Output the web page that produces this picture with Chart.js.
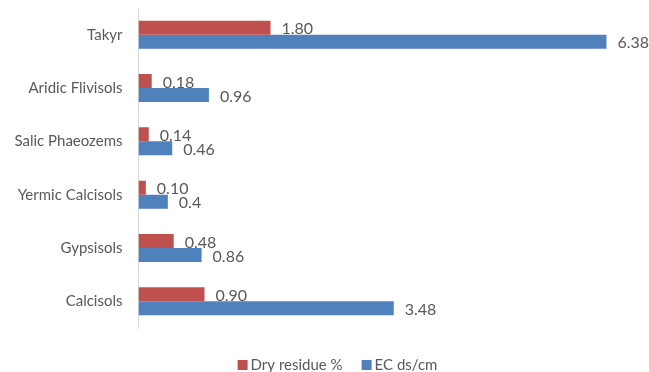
<!DOCTYPE html>
<html>
<head>
<meta charset="utf-8">
<script src="https://cdn.jsdelivr.net/npm/chart.js@4"></script>
<style>
html,body{margin:0;padding:0;background:#fff;}
#wrap{width:649px;height:372px;}
</style>
</head>
<body>
<div id="wrap"><canvas id="c" width="649" height="372"></canvas></div>
<script>
const categories = ["Takyr", "Aridic Flivisols", "Salic Phaeozems", "Yermic Calcisols", "Gypsisols", "Calcisols"];
const dryResidue = [1.80, 0.18, 0.14, 0.10, 0.48, 0.90];
const ecValues = [6.38, 0.96, 0.46, 0.4, 0.86, 3.48];
const seriesNames = ["Dry residue %", "EC ds/cm"];
const seriesColors = ["#C0504D", "#4F81BD"];

const labelPlugin = {
  id: 'valLabels',
  afterDatasetsDraw(chart) {
    const ctx = chart.ctx;
    ctx.save();
    ctx.font = '16px Lato';
    ctx.fillStyle = '#595959';
    ctx.textAlign = 'left';
    ctx.textBaseline = 'middle';
    chart.data.datasets.forEach((ds, di) => {
      const meta = chart.getDatasetMeta(di);
      meta.data.forEach((bar, i) => {
        const v = ds.data[i];
        const txt = di === 0 ? v.toFixed(2) : String(v);
        ctx.fillText(txt, bar.x + 11, bar.y + 1.5);
      });
    });
    // legend
    ctx.font = '15px Lato';
    const box = 10, gap = 3, spacing = 19;
    const widths = chart.data.datasets.map(d => ctx.measureText(d.label).width);
    let total = 0;
    widths.forEach((w, i) => { total += box + gap + w + (i ? spacing : 0); });
    let x = 337.5 - total / 2;
    const y = 365;
    chart.data.datasets.forEach((d, i) => {
      ctx.fillStyle = d.backgroundColor;
      ctx.fillRect(x, y - box / 2, box, box);
      ctx.fillStyle = '#595959';
      ctx.fillText(d.label, x + box + gap, y);
      x += box + gap + widths[i] + spacing;
    });
    ctx.restore();
  }
};

new Chart(document.getElementById('c'), {
  type: 'bar',
  data: {
    labels: categories,
    datasets: [
      { label: seriesNames[0], data: dryResidue, backgroundColor: seriesColors[0], categoryPercentage: 0.525, barPercentage: 1 },
      { label: seriesNames[1], data: ecValues, backgroundColor: seriesColors[1], categoryPercentage: 0.525, barPercentage: 1 }
    ]
  },
  options: {
    indexAxis: 'y',
    responsive: false,
    animation: false,
    layout: { padding: { left: 10, right: 0, top: 8, bottom: 44 } },
    scales: {
      x: { display: false, min: 0, max: 6.96 },
      y: {
        grid: { display: false, drawTicks: false },
        border: { display: true, color: '#d9d9d9', width: 1 },
        ticks: { color: '#595959', font: { family: 'Lato', size: 15 }, padding: 16 },
        afterFit(s) { s.width = 128.5; s.paddingTop = 0; s.paddingBottom = 0; }
      }
    },
    plugins: {
      tooltip: { enabled: false },
      legend: { display: false }
    }
  },
  plugins: [labelPlugin]
});
</script>
</body>
</html>
